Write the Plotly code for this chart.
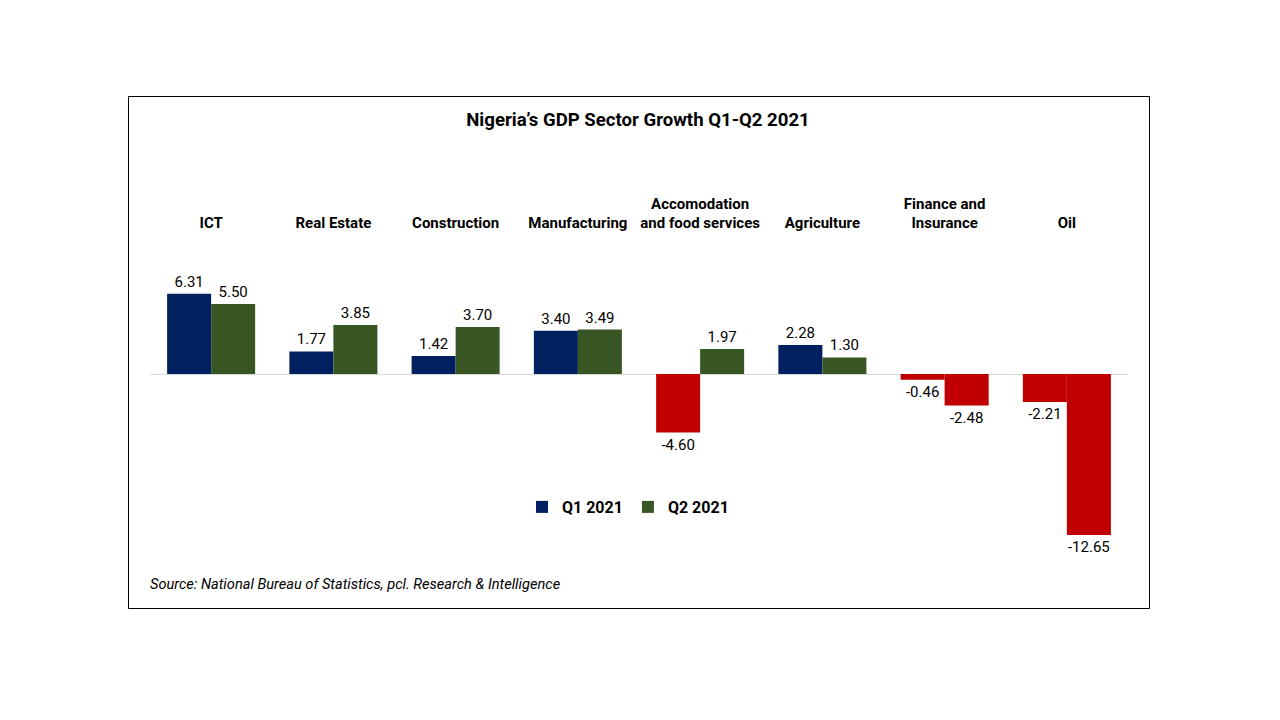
import plotly.graph_objects as go

sectors = [
    "ICT",
    "Real Estate",
    "Construction",
    "Manufacturing",
    "Accomodation<br>and food services",
    "Agriculture",
    "Finance and<br>Insurance",
    "Oil",
]
q1_2021 = [6.31, 1.77, 1.42, 3.40, -4.60, 2.28, -0.46, -2.21]
q2_2021 = [5.50, 3.85, 3.70, 3.49, 1.97, 1.30, -2.48, -12.65]

NAVY = "#002060"
GREEN = "#375623"
RED = "#C00000"

# page puts the figure 8px in from the top-left corner
OFF = 8
W, H = 1280, 720
L, R, T, B = 150 - OFF, 152 + OFF, 240 - OFF, 160 + OFF


def px_x(p):
    return (p - OFF - L) / (W - L - R)


def px_y(p):
    return (H - B - (p - OFF)) / (H - T - B)


def colors(vals, pos):
    return [pos if v >= 0 else RED for v in vals]


fig = go.Figure()
for name, vals, col in [("Q1 2021", q1_2021, NAVY), ("Q2 2021", q2_2021, GREEN)]:
    fig.add_trace(go.Bar(
        name=name, x=sectors, y=vals,
        marker=dict(color=colors(vals, col), line=dict(width=0)),
        texttemplate="%{y:.2f}", textposition="outside",
        textfont=dict(family="Roboto", size=15, color="#000000"),
        cliponaxis=False,
    ))

fig.update_layout(
    width=W, height=H,
    margin=dict(l=L, r=R, t=T, b=B),
    paper_bgcolor="white", plot_bgcolor="white",
    barmode="group", bargap=0.28, bargroupgap=0,
    font=dict(family="Roboto", color="#000000"),
    title=dict(
        text="<b>Nigeria’s GDP Sector Growth Q1-Q2 2021</b>",
        x=px_x(638), xref="paper", xanchor="center",
        y=1 - (119 - OFF) / H, yanchor="middle",
        font=dict(family="Roboto", size=18.6, color="#000000"),
    ),
    showlegend=True,
    legend=dict(
        orientation="h", x=px_x(628), xanchor="center",
        y=px_y(507), yanchor="middle",
        font=dict(family="Roboto", size=16, color="#000000", weight="bold"),
        itemwidth=30, bgcolor="rgba(0,0,0,0)",
    ),
)

fig.update_xaxes(
    side="top", showgrid=False, showline=False, ticks="",
    tickfont=dict(family="Roboto", size=15, color="#000000", weight="bold"),
    ticklabelstandoff=8,
)
fig.update_yaxes(
    range=[-(H - B - (374 - OFF)) / 12.72, ((374 - OFF) - T) / 12.72],
    showgrid=False, showticklabels=False, showline=False, ticks="",
    zeroline=True, zerolinecolor="#d9d9d9", zerolinewidth=1,
)

fig.add_shape(
    type="rect", xref="paper", yref="paper",
    x0=px_x(128.5), x1=px_x(1149.5), y0=px_y(608.5), y1=px_y(96.5),
    line=dict(color="#000000", width=1), fillcolor="rgba(0,0,0,0)",
)

fig.add_annotation(
    text="<i>Source: National Bureau of Statistics, pcl. Research &amp; Intelligence</i>",
    xref="paper", yref="paper", x=px_x(148), y=px_y(584),
    xanchor="left", yanchor="middle", showarrow=False,
    font=dict(family="Roboto", size=14.6, color="#000000"),
)

fig.write_html("out.html")
